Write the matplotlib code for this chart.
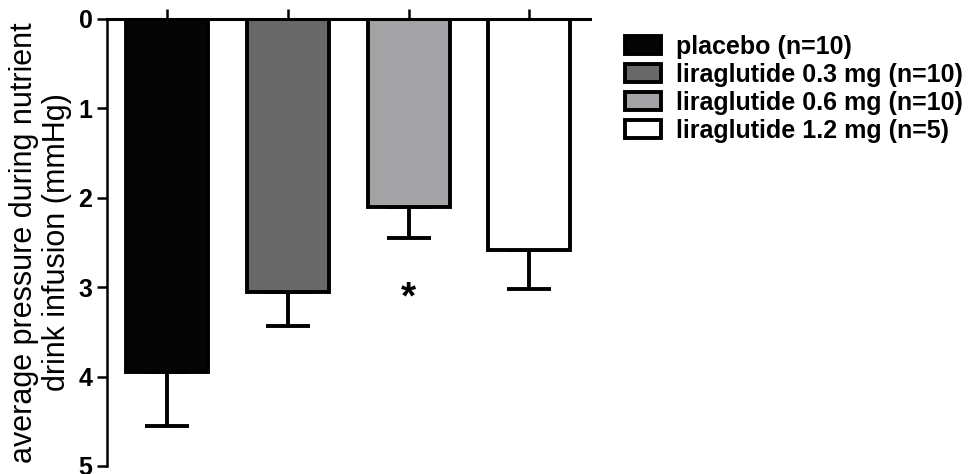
import matplotlib
matplotlib.use("Agg")
import matplotlib.pyplot as plt
from matplotlib.patches import Patch

plt.rcParams['font.family'] = ['Liberation Sans', 'DejaVu Sans']

groups = ['placebo (n=10)', 'liraglutide 0.3 mg (n=10)',
          'liraglutide 0.6 mg (n=10)', 'liraglutide 1.2 mg (n=5)']
means = [3.95, 3.05, 2.10, 2.58]
sem = [0.60, 0.38, 0.35, 0.44]
colors = ['#050505', '#686868', '#a3a3a6', '#ffffff']
signif = ['', '', '*', '']

fig = plt.figure(figsize=(9.73, 4.74), dpi=100)
ax = fig.add_axes([0.110, 0.017, 0.496, 0.943])

x = list(range(len(groups)))
ax.bar(x, means, width=0.68, color=colors, edgecolor='black', linewidth=2.8, zorder=2)
ax.errorbar(x, means, yerr=[[0] * len(sem), sem], fmt='none', ecolor='black',
            elinewidth=2.8, capsize=16, capthick=2.8, zorder=1)

# significance marker below the error bar
for xi, m, s, mark in zip(x, means, sem, signif):
    if mark:
        ax.text(xi, m + s + 0.79, mark, ha='center', va='baseline',
                fontsize=28, fontweight='bold')

ax.set_xlim(-0.5, 3.5)
ax.set_ylim(5, 0)
ax.set_yticks([0, 1, 2, 3, 4, 5])
ax.xaxis.tick_top()
ax.set_xticks(x)
ax.set_xticklabels([])
ax.tick_params(axis='x', direction='out', length=7, width=1.8)
ax.tick_params(axis='y', direction='out', length=7, width=1.8, labelsize=18)
for lab in ax.get_yticklabels():
    lab.set_fontweight('bold')

ax.spines['right'].set_visible(False)
ax.spines['bottom'].set_visible(False)
ax.spines['top'].set_linewidth(2.2)
ax.spines['left'].set_linewidth(1.8)

ax.set_ylabel('average pressure during nutrient\ndrink infusion (mmHg)',
              fontsize=22, linespacing=1.12, labelpad=5)

handles = [Patch(facecolor=c, edgecolor='black', linewidth=2.8) for c in colors]
fig.legend(handles, groups, loc='upper left', bbox_to_anchor=(0.632, 0.948),
           frameon=False, prop={'size': 18, 'weight': 'bold'},
           handlelength=1.45, handleheight=0.7, handletextpad=0.6,
           labelspacing=0.16, borderaxespad=0)

fig.savefig('out.png', dpi=100)
